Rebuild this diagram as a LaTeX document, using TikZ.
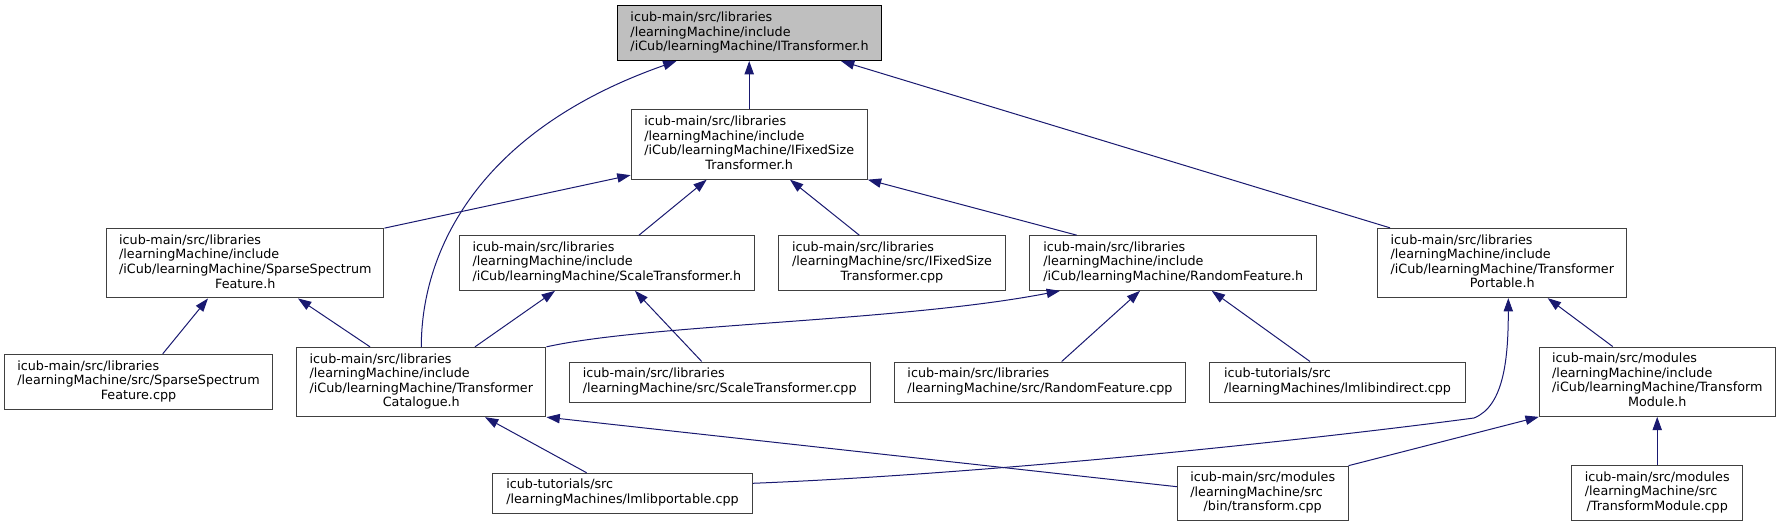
\documentclass[tikz,border=0pt]{standalone}
\usepackage{fontspec}
\setmainfont{DejaVu Sans}
\usepackage{tikz}
\usetikzlibrary{calc, arrows.meta}
\definecolor{edgeblue}{HTML}{191970}
\definecolor{nodeframe}{HTML}{404040}
\definecolor{rootfill}{HTML}{BFBFBF}
\newcommand{\flines}[1]{\begin{tabular}{@{}l@{}}#1\end{tabular}}
\newcommand{\lastline}[1]{\multicolumn{1}{@{}c@{}}{#1}}

\begin{document}
\begin{tikzpicture}[x=0.75pt, y=-0.75pt,
    filebox/.style={draw=nodeframe, line width=0.75pt, fill=white, inner sep=0pt,
      minimum height=#1, font=\fontsize{9.56pt}{10.9pt}\selectfont},
    rootbox/.style={filebox=#1, draw=black, fill=rootfill},
    dep/.style={edgeblue, line width=0.75pt, -{Triangle[length=10pt, width=7pt]}}]
      \useasboundingbox (0,0) rectangle (1781,527);

      % 1. 根節點與第二層
      \node[rootbox=41pt, minimum width=198.3pt] (ITrans) at (749.5,33.2)
        {\flines{icub-main/src/libraries\\/learningMachine/include\\/iCub/learningMachine/ITransformer.h}};
      \node[filebox=52pt, minimum width=177.2pt] (IFixed) at (749.2,144.5)
        {\flines{icub-main/src/libraries\\/learningMachine/include\\/iCub/learningMachine/IFixedSize\\\lastline{Transformer.h}}};

      % 2. 第三層
      \node[filebox=52pt, minimum width=208pt] (SSF_h) at (245.3,263.3)
        {\flines{icub-main/src/libraries\\/learningMachine/include\\/iCub/learningMachine/SparseSpectrum\\\lastline{Feature.h}}};
      \node[filebox=41pt, minimum width=221.3pt] (ST_h) at (606.8,263)
        {\flines{icub-main/src/libraries\\/learningMachine/include\\/iCub/learningMachine/ScaleTransformer.h}};
      \node[filebox=41pt, minimum width=170pt] (IFS_cpp) at (892,263)
        {\flines{icub-main/src/libraries\\/learningMachine/src/IFixedSize\\\lastline{Transformer.cpp}}};
      \node[filebox=41pt, minimum width=215pt] (RF_h) at (1173.3,263)
        {\flines{icub-main/src/libraries\\/learningMachine/include\\/iCub/learningMachine/RandomFeature.h}};
      \node[filebox=52pt, minimum width=187pt] (TP_h) at (1502.3,263)
        {\flines{icub-main/src/libraries\\/learningMachine/include\\/iCub/learningMachine/Transformer\\\lastline{Portable.h}}};

      % 3. 第四層
      \node[filebox=41pt, minimum width=200.7pt] (SSF_cpp) at (138.5,381.7)
        {\flines{icub-main/src/libraries\\/learningMachine/src/SparseSpectrum\\\lastline{Feature.cpp}}};
      \node[filebox=52pt, minimum width=187pt] (TC_h) at (421.3,382)
        {\flines{icub-main/src/libraries\\/learningMachine/include\\/iCub/learningMachine/Transformer\\\lastline{Catalogue.h}}};
      \node[filebox=30pt, minimum width=225.5pt] (ST_cpp) at (719.7,382)
        {\flines{icub-main/src/libraries\\/learningMachine/src/ScaleTransformer.cpp}};
      \node[filebox=30pt, minimum width=218pt] (RF_cpp) at (1040,382)
        {\flines{icub-main/src/libraries\\/learningMachine/src/RandomFeature.cpp}};
      \node[filebox=30pt, minimum width=191.3pt] (lml_ind) at (1337.5,382)
        {\flines{icub-tutorials/src\\/learningMachines/lmlibindirect.cpp}};
      \node[filebox=52pt, minimum width=177pt] (TM_h) at (1657.3,381.7)
        {\flines{icub-main/src/modules\\/learningMachine/include\\/iCub/learningMachine/Transform\\\lastline{Module.h}}};

      % 4. 最底層
      \node[filebox=30pt, minimum width=194.7pt] (lml_port) at (622.5,493.3)
        {\flines{icub-tutorials/src\\/learningMachines/lmlibportable.cpp}};
      \node[filebox=41pt, minimum width=128pt] (tr_cpp) at (1262.7,493.5)
        {\flines{icub-main/src/modules\\/learningMachine/src\\\lastline{/bin/transform.cpp}}};
      \node[filebox=41pt, minimum width=128pt] (TM_cpp) at (1657.2,493)
        {\flines{icub-main/src/modules\\/learningMachine/src\\\lastline{/TransformModule.cpp}}};

      % 5. 指向 ITransformer.h 與 IFixedSizeTransformer.h 的箭頭
      \draw[dep] (IFixed.north) -- (IFixed.north |- ITrans.south);
      \draw[dep] (TC_h.north) .. controls +(0,-97) and +(-197,69) .. ($(ITrans.south)+(-73,0)$);
      \draw[dep] ($(TP_h.north)+(-112.3,0)$) -- ($(ITrans.south)+(91.5,0)$);
      \draw[dep] (SSF_h.north east) -- ($(IFixed.south west)+(0,-4.5)$);
      \draw[dep] ($(ST_h.north)+(32.2,0)$) -- ($(IFixed.south)+(-42.5,0)$);
      \draw[dep] ($(IFS_cpp.north)+(-32.7,0)$) -- ($(IFixed.south)+(40.8,0)$);
      \draw[dep] ($(RF_h.north)+(-96.6,0)$) -- (IFixed.south east);

      % 6. 第三層的箭頭
      \draw[dep] ($(SSF_cpp.north)+(24.2,0)$) -- ($(SSF_h.south)+(-37.3,0)$);
      \draw[dep] ($(TC_h.north)+(-51.3,0)$) -- ($(SSF_h.south)+(52.7,0)$);
      \draw[dep] ($(TC_h.north)+(53.7,0)$) -- ($(ST_h.south)+(-51.8,0)$);
      \draw[dep] ($(ST_cpp.north)+(-18,0)$) -- ($(ST_h.south)+(28.2,0)$);
      \draw[dep] (TC_h.north east) .. controls +(104,-23) and +(-160,31) .. ($(RF_h.south)+(-113.3,0)$);
      \draw[dep] ($(RF_cpp.north)+(21.7,0)$) -- ($(RF_h.south)+(-33.3,0)$);
      \draw[dep] ($(lml_ind.north)+(-27.5,0)$) -- ($(RF_h.south)+(38.4,0)$);
      \draw[dep] ($(TM_h.north)+(-44.6,0)$) -- ($(TP_h.south)+(45.4,0)$);

      % 7. 最底層的箭頭
      \coordinate (bend) at (1474,418);
      \draw[dep] ($(lml_port.east)+(0,-10)$) .. controls +(250,-10) and +(-150,20) .. (bend)
        .. controls +(30,-12) and +(0,60) .. ($(TP_h.south)+(6,0)$);
      \draw[dep] ($(lml_port.north)+(-35.8,0)$) -- ($(TC_h.south)+(63.7,0)$);
      \draw[dep] ($(tr_cpp.west)+(0,-6.8)$) -- (TC_h.south east);
      \draw[dep] (tr_cpp.north east) -- (TM_h.south west);
      \draw[dep] (TM_cpp.north) -- (TM_cpp.north |- TM_h.south);
\end{tikzpicture}
\end{document}
